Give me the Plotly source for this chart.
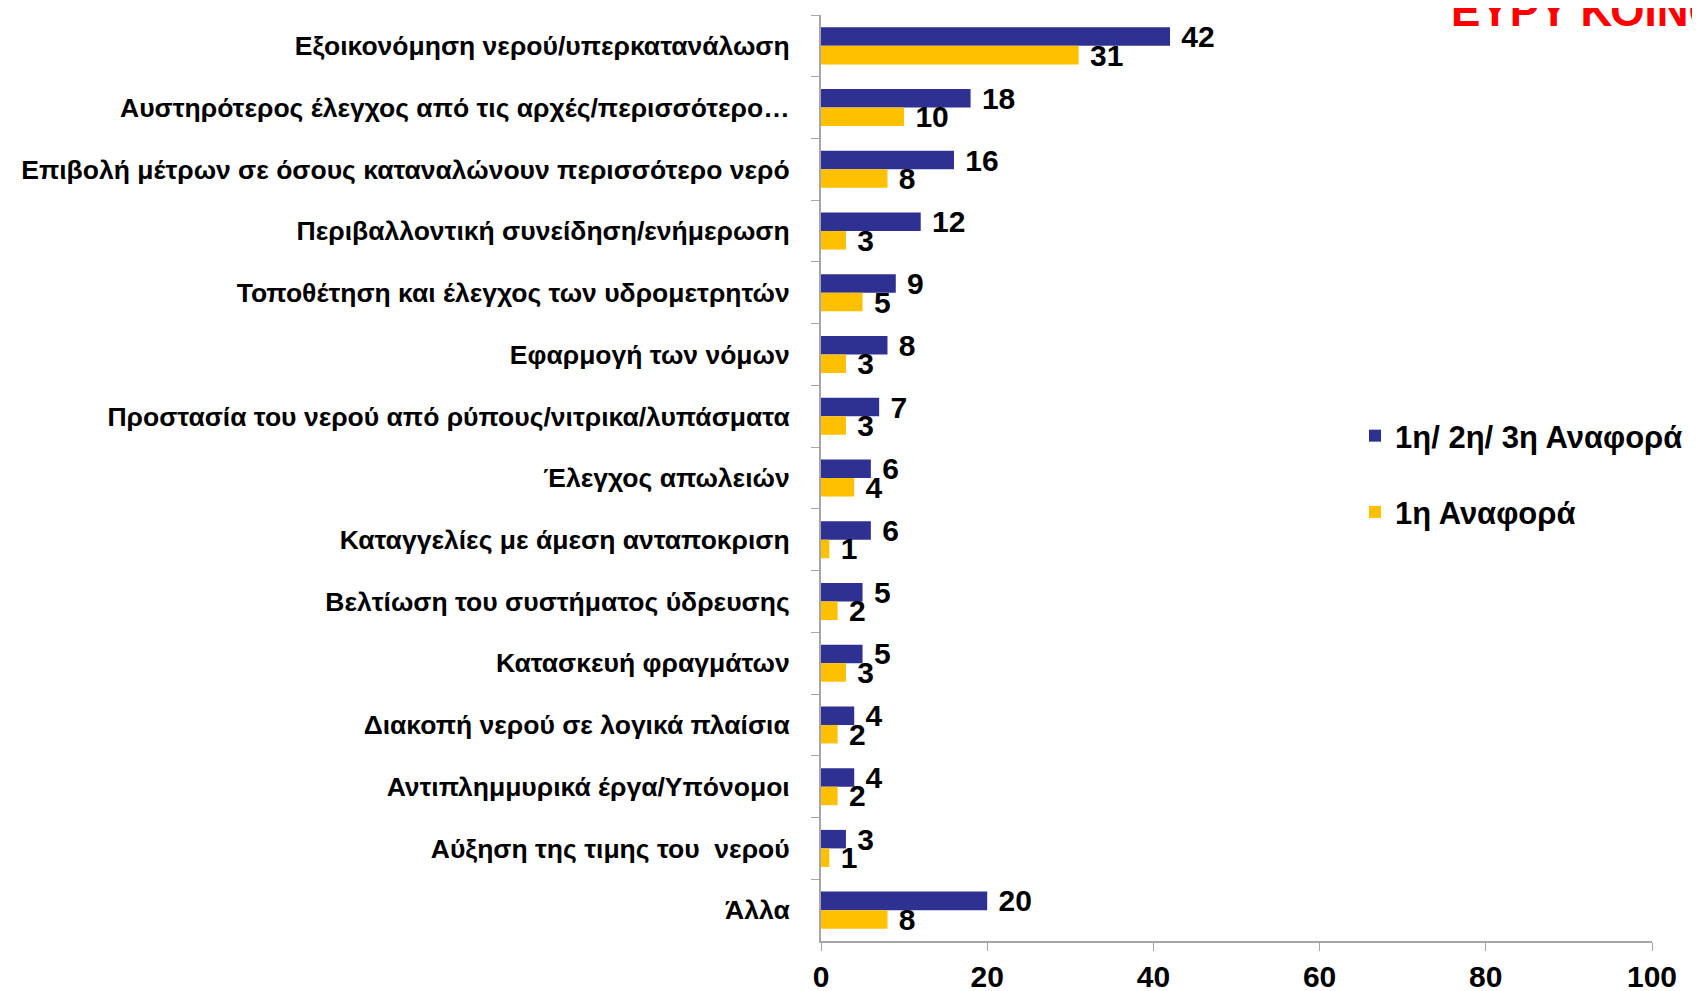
import plotly.graph_objects as go

categories = [
    "Εξοικονόμηση νερού/υπερκατανάλωση",
    "Αυστηρότερος έλεγχος από τις αρχές/περισσότερο…",
    "Επιβολή μέτρων σε όσους καταναλώνουν περισσότερο νερό",
    "Περιβαλλοντική συνείδηση/ενήμερωση",
    "Τοποθέτηση και έλεγχος των υδρομετρητών",
    "Εφαρμογή των νόμων",
    "Προστασία του νερού από ρύπους/νιτρικα/λυπάσματα",
    "Έλεγχος απωλειών",
    "Καταγγελίες με άμεση ανταποκριση",
    "Βελτίωση του συστήματος ύδρευσης",
    "Κατασκευή φραγμάτων",
    "Διακοπή νερού σε λογικά πλαίσια",
    "Αντιπλημμυρικά έργα/Υπόνομοι",
    "Αύξηση της τιμης του  νερού",
    "Άλλα",
]
all_mentions = [42, 18, 16, 12, 9, 8, 7, 6, 6, 5, 5, 4, 4, 3, 20]
first_mention = [31, 10, 8, 3, 5, 3, 3, 4, 1, 2, 3, 2, 2, 1, 8]
series_names = ["1η/ 2η/ 3η Αναφορά", "1η Αναφορά"]
x_ticks = [0, 20, 40, 60, 80, 100]

FONT = "Liberation Sans"
BLUE = "#2E3192"
YELLOW = "#FFC000"

L, R, T, B = 813, 56, 7, 58
PH = 991 - T - B
PW = 1700 - L - R

fig = go.Figure()
for vals, name, color, grp in [(all_mentions, series_names[0], BLUE, "a"),
                               (first_mention, series_names[1], YELLOW, "b")]:
    fig.add_trace(go.Bar(
        y=categories, x=vals, name=name, orientation="h", legendgroup=grp,
        marker=dict(color=color, line=dict(width=0)),
        text=[" " + str(v) for v in vals], textposition="outside",
        textfont=dict(family=FONT, size=30, color="black", weight="bold"),
        constraintext="none", cliponaxis=False,
    ))

fig.update_layout(
    width=1700, height=991,
    paper_bgcolor="white", plot_bgcolor="white",
    barmode="group", bargap=0.40, bargroupgap=0.0,
    margin=dict(l=L, r=R, t=T, b=B),
    font=dict(family=FONT, color="black"),
    showlegend=True,
    legend=dict(
        x=(1347 - L) / PW, y=1 - (401 - T) / PH, xanchor="left", yanchor="top",
        font=dict(family=FONT, size=31, color="black", weight="bold"),
        tracegroupgap=33, itemsizing="constant", bgcolor="rgba(0,0,0,0)",
    ),
    xaxis=dict(
        range=[0, 100], tickvals=x_ticks, ticktext=[str(t) for t in x_ticks],
        showgrid=False, zeroline=False, showline=True, linecolor="#A6A6A6", linewidth=2,
        ticks="outside", ticklen=8, tickcolor="#A6A6A6", tickwidth=1,
        tickfont=dict(family=FONT, size=30, color="black", weight="bold"),
        automargin=False,
    ),
    yaxis=dict(
        categoryorder="array", categoryarray=categories, autorange="reversed",
        showgrid=False, showline=True, linecolor="#A6A6A6", linewidth=2,
        ticks="outside", tickson="boundaries", ticklen=8, tickcolor="#A6A6A6",
        tickfont=dict(family=FONT, size=26.5, color="black", weight="bold"),
        ticklabelstandoff=24, automargin=False,
    ),
    annotations=[dict(
        text="ΕΥΡΥ ΚΟΙΝΟ", xref="paper", yref="paper",
        x=(1441 - L) / PW, y=1 - 22 / PH,
        xanchor="left", yanchor="bottom", showarrow=False,
        font=dict(family=FONT, size=44, color="#FF0000", weight="bold"),
    )],
)

fig.write_html("out.html")
